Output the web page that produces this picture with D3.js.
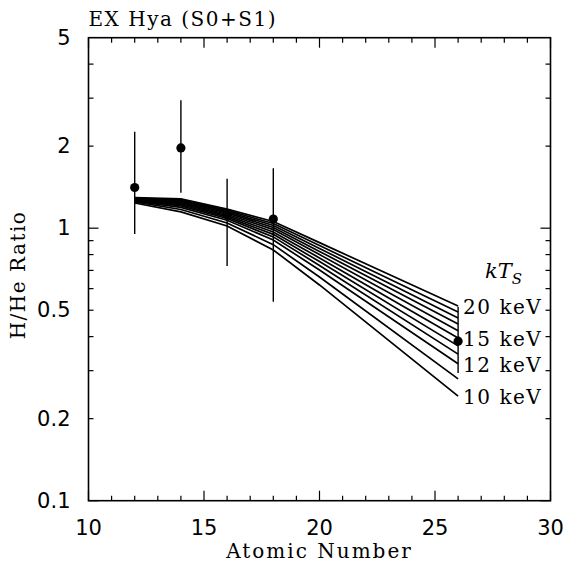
<!DOCTYPE html>
<html><head><meta charset="utf-8">
<script src="https://cdn.jsdelivr.net/npm/d3@7"></script>
<style>
body{margin:0;background:#fff;}
text{font-family:"DejaVu Serif",serif;fill:#000;}
.num{font-family:"DejaVu Sans",sans-serif;}
</style></head>
<body><svg id="c" width="565" height="564"></svg>
<script>
// ---- data ----
const obsZ     = [12, 14, 16, 18, 26];
const obsRatio = [1.41, 1.97, 1.12, 1.08, 0.385];
const obsLow   = [0.953, 1.35, 0.727, 0.537, 0.294];
const obsHigh  = [2.26, 2.95, 1.52, 1.66, 0.515];

const modelZ = [12, 14, 16, 18, 20, 26];
const modelTemps = [20, 19, 18, 17, 16, 15, 14, 13, 12, 11, 10];
const modelRatio = [
  [1.294, 1.280, 1.175, 1.058, 0.885, 0.518],
  [1.290, 1.271, 1.162, 1.040, 0.864, 0.4925],
  [1.286, 1.262, 1.150, 1.023, 0.843, 0.468],
  [1.282, 1.252, 1.138, 1.006, 0.822, 0.445],
  [1.278, 1.241, 1.125, 0.988, 0.800, 0.420],
  [1.274, 1.231, 1.112, 0.969, 0.778, 0.3955],
  [1.268, 1.219, 1.098, 0.949, 0.754, 0.370],
  [1.264, 1.207, 1.085, 0.929, 0.730, 0.345],
  [1.257, 1.192, 1.069, 0.905, 0.702, 0.318],
  [1.248, 1.171, 1.045, 0.870, 0.662, 0.280],
  [1.237, 1.147, 1.019, 0.832, 0.619, 0.242]
];
const labeledTemps = [20, 15, 12, 10];

const xMajor = [10, 15, 20, 25, 30];
const yLabels = [0.1, 0.2, 0.5, 1, 2, 5];
const yMinor = [0.2,0.3,0.4,0.5,0.6,0.7,0.8,0.9,2,3,4];
const yMajor = [0.1, 1];

// ---- layout ----
const L = 88.5, R = 550.5, T = 37.7, B = 500.7;
const svg = d3.select("#c");
const x = d3.scaleLinear().domain([10, 30]).range([L, R]);
const y = d3.scaleLog().domain([0.1, 5]).range([B, T]);

// model lines
const line = d3.line().x((d,i)=>x(modelZ[i])).y(d=>y(d));
svg.append("g").selectAll("path").data(modelRatio).join("path")
  .attr("d", line).attr("fill","none").attr("stroke","#000").attr("stroke-width",1.7);

// error bars
svg.append("g").selectAll("line").data(obsZ).join("line")
  .attr("x1",d=>x(d)).attr("x2",d=>x(d))
  .attr("y1",(d,i)=>y(obsLow[i])).attr("y2",(d,i)=>y(obsHigh[i]))
  .attr("stroke","#000").attr("stroke-width",1.4);
svg.append("g").selectAll("circle").data(obsZ).join("circle")
  .attr("cx",d=>x(d)).attr("cy",(d,i)=>y(obsRatio[i])).attr("r",4.6).attr("fill","#000");

// frame
svg.append("rect").attr("x",L).attr("y",T).attr("width",R-L).attr("height",B-T)
  .attr("fill","none").attr("stroke","#000").attr("stroke-width",1.6);

// x ticks (inward, top and bottom)
const xTicks = d3.range(10, 31, 1);
const xg = svg.append("g");
xTicks.forEach(v=>{
  const len = xMajor.includes(v) ? 10 : 5;
  xg.append("line").attr("x1",x(v)).attr("x2",x(v)).attr("y1",B).attr("y2",B-len).attr("stroke","#000").attr("stroke-width",1.2);
  xg.append("line").attr("x1",x(v)).attr("x2",x(v)).attr("y1",T).attr("y2",T+len).attr("stroke","#000").attr("stroke-width",1.2);
});
xg.selectAll("text").data(xMajor).join("text").attr("class","num")
  .attr("x",d=>x(d)).attr("y",B+34).attr("text-anchor","middle")
  .attr("font-size",21).text(d=>d);

// y ticks (inward, left and right)
const yg = svg.append("g");
yMajor.concat(yMinor).forEach(v=>{
  const len = yMajor.includes(v) ? 10 : 5;
  yg.append("line").attr("x1",L).attr("x2",L+len).attr("y1",y(v)).attr("y2",y(v)).attr("stroke","#000").attr("stroke-width",1.2);
  yg.append("line").attr("x1",R).attr("x2",R-len).attr("y1",y(v)).attr("y2",y(v)).attr("stroke","#000").attr("stroke-width",1.2);
});
yg.selectAll("text").data(yLabels).join("text").attr("class","num")
  .attr("x",L-18).attr("y",d=>y(d)+7).attr("text-anchor","end")
  .attr("font-size",21).text(d=>d);

// axis titles
svg.append("text").attr("x",(L+R)/2).attr("y",558).attr("text-anchor","middle")
  .attr("font-size",20).attr("letter-spacing",2).text("Atomic Number");
svg.append("text").attr("transform","translate(25,275) rotate(-90)").attr("text-anchor","middle")
  .attr("font-size",20).attr("letter-spacing",1.5).text("H/He Ratio");
svg.append("text").attr("x",L).attr("y",26).attr("font-size",20).attr("letter-spacing",1.5).text("EX Hya (S0+S1)");

// temperature labels
svg.append("g").selectAll("text").data(labeledTemps).join("text")
  .attr("x",x(26)+5)
  .attr("y",d=>y(modelRatio[modelTemps.indexOf(d)][5])+8)
  .attr("font-size",20).attr("letter-spacing",1.5).text(d=>d+" keV");
const kt = svg.append("text").attr("x",485).attr("y",278).attr("font-size",21).attr("font-style","italic");
kt.append("tspan").text("kT");
kt.append("tspan").attr("font-size",15).attr("dy",6).text("S");
</script></body></html>
